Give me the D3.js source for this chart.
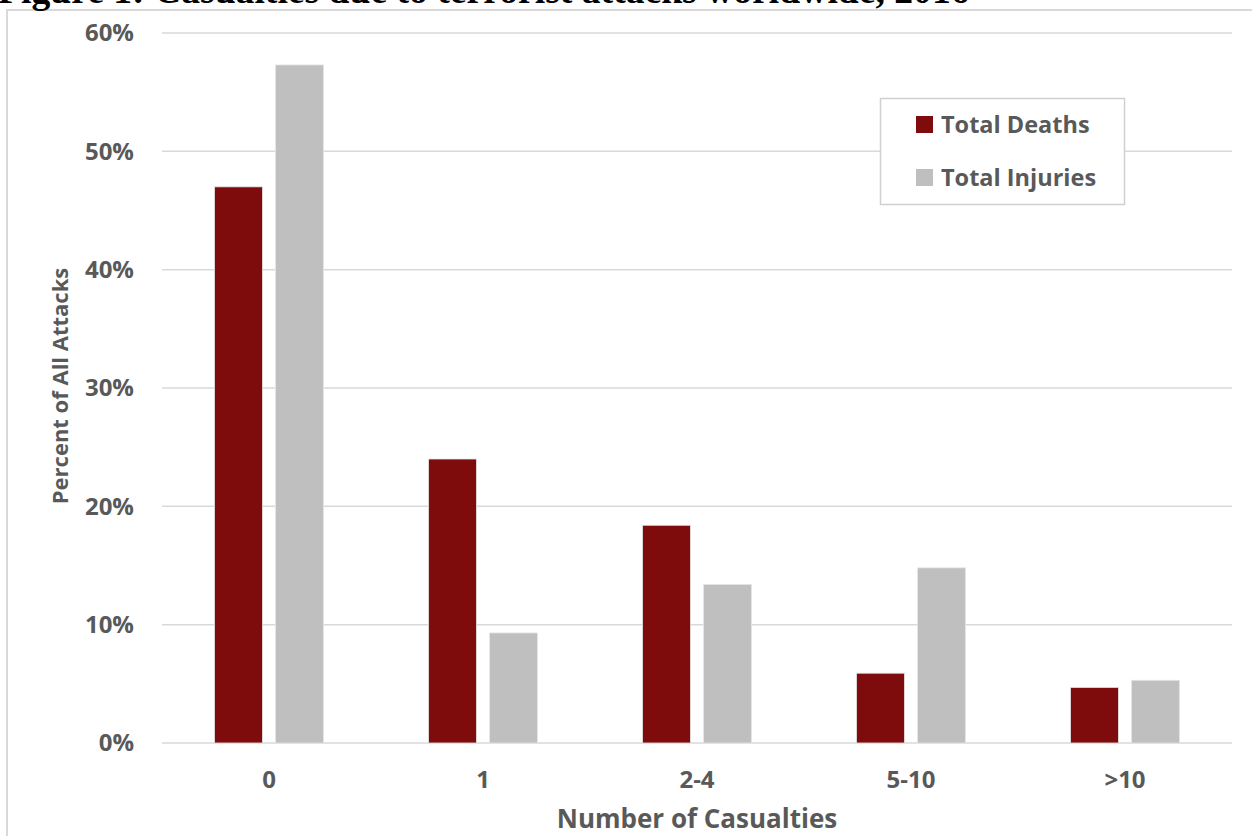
<!DOCTYPE html>
<html><head><meta charset="utf-8">
<script src="https://cdn.jsdelivr.net/npm/d3@7"></script>
<style>body{margin:0;background:#fff}svg{display:block}</style>
</head><body>
<svg id="c" width="1252" height="836"></svg>
<script>
const categories = ["0","1","2-4","5-10",">10"];
const seriesNames = ["Total Deaths","Total Injuries"];
const deaths = [47.0, 24.0, 18.4, 5.9, 4.7];
const injuries = [57.3, 9.3, 13.4, 14.8, 5.3];
const yTicks = [0,10,20,30,40,50,60];
const colors = ["#7f0c0c","#bfbfbf"];

const svg = d3.select("#c");
const W = 1252, H = 836;
const m = {left:162, right:20, top:33, bottom:93};

// outer chart border
svg.append("rect").attr("x",7).attr("y",10).attr("width",1260).attr("height",840)
  .attr("fill","none").attr("stroke","#d9d9d9").attr("stroke-width",2);

// title (cut off at top, as in the source image)
const title = svg.append("text").attr("x",-2).attr("y",3)
  .attr("font-family","Liberation Serif, Times New Roman, serif").attr("font-weight","bold")
  .attr("font-size",32).attr("fill","#000")
  .text("Figure 1: Casualties due to terrorist attacks worldwide, 2016");

const x = d3.scaleBand().domain(categories).range([m.left, W-m.right]).paddingInner(0).paddingOuter(0);
const y = d3.scaleLinear().domain([0,60]).range([743, 33]);
const groupW = 109;
const xs = d3.scaleBand().domain(seriesNames).range([0, groupW]).paddingInner(0.213);

// gridlines
svg.append("g").selectAll("line").data(yTicks).join("line")
  .attr("x1",m.left).attr("x2",W-m.right)
  .attr("y1",d=>y(d)).attr("y2",d=>y(d))
  .attr("stroke","#d9d9d9").attr("stroke-width",1.5);

// y axis labels
const yAxis = d3.axisLeft(y).tickValues(yTicks).tickFormat(d=>d+"%").tickSize(0).tickPadding(28);
const ga = svg.append("g").attr("transform",`translate(${m.left},0)`).call(yAxis);
ga.select(".domain").remove();
ga.selectAll("text").attr("font-family","Open Sans, sans-serif").attr("font-weight","bold")
  .attr("font-size",24).attr("fill","#595959");

// bars
const data = categories.map((c,i)=>({c, vals:[deaths[i], injuries[i]]}));
const groups = svg.append("g").selectAll("g").data(data).join("g")
  .attr("transform",d=>`translate(${x(d.c)+x.bandwidth()/2-groupW/2},0)`);
groups.selectAll("rect").data(d=>d.vals.map((v,j)=>({v,s:seriesNames[j],j}))).join("rect")
  .attr("x",d=>xs(d.s)).attr("width",xs.bandwidth())
  .attr("y",d=>y(d.v)).attr("height",d=>y(0)-y(d.v))
  .attr("fill",d=>colors[d.j]).attr("stroke","#e6e6e6").attr("stroke-width",0.8);

// x axis labels
const xAxis = d3.axisBottom(x).tickSize(0).tickPadding(28);
const gx = svg.append("g").attr("transform",`translate(0,${y(0)})`).call(xAxis);
gx.select(".domain").remove();
gx.selectAll("text").attr("font-family","Open Sans, sans-serif").attr("font-weight","bold")
  .attr("font-size",24).attr("fill","#595959");

// axis titles
svg.append("text").attr("x",(m.left+W-m.right)/2-0).attr("y",828).attr("text-anchor","middle")
  .attr("font-family","Open Sans, sans-serif").attr("font-weight","bold").attr("font-size",26)
  .attr("fill","#595959").text("Number of Casualties");
svg.append("text").attr("transform","translate(68,386) rotate(-90)").attr("text-anchor","middle")
  .attr("font-family","Open Sans, sans-serif").attr("font-weight","bold").attr("font-size",22)
  .attr("fill","#595959").text("Percent of All Attacks");

// legend
const lg = svg.append("g");
lg.append("rect").attr("x",880.5).attr("y",98.5).attr("width",244).attr("height",106)
  .attr("fill","#fff").attr("stroke","#d0d0d0").attr("stroke-width",1.5);
seriesNames.forEach((s,i)=>{
  lg.append("rect").attr("x",916).attr("y",116+i*53).attr("width",17).attr("height",17).attr("fill",colors[i]);
  lg.append("text").attr("x",941).attr("y",133+i*53)
    .attr("font-family","Open Sans, sans-serif").attr("font-weight","bold").attr("font-size",23.5)
    .attr("fill","#595959").text(s);
});

// fit title width
const tl = title.node().getComputedTextLength();
title.attr("font-size", 32*972/tl);
</script>
</body></html>
